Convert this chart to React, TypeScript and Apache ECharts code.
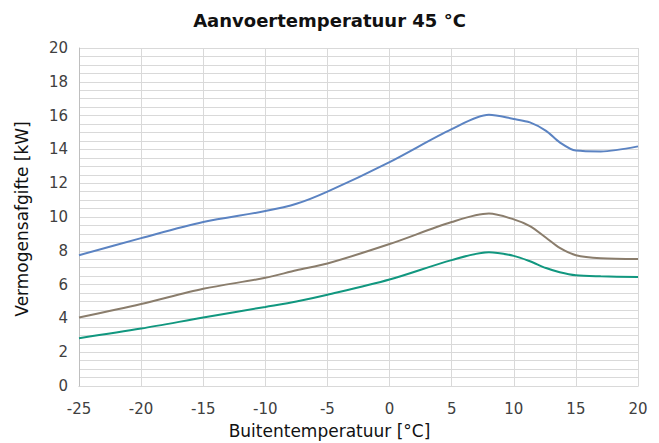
import React, { useEffect, useRef } from "react";
import * as echarts from "echarts";

const temps = [-25, -20, -15, -10, -7.5, -5, 0, 5, 8, 10, 11.3, 12.6, 13.7, 15, 17, 20];
const blueSeries = [7.74, 8.75, 9.7, 10.35, 10.78, 11.5, 13.25, 15.2, 16.05, 15.8, 15.6, 15.1, 14.42, 13.93, 13.88, 14.18];
const brownSeries = [4.05, 4.85, 5.75, 6.4, 6.85, 7.25, 8.4, 9.7, 10.2, 9.86, 9.46, 8.77, 8.17, 7.74, 7.56, 7.52];
const tealSeries = [2.83, 3.4, 4.05, 4.68, 5.0, 5.4, 6.3, 7.45, 7.92, 7.7, 7.38, 6.98, 6.73, 6.55, 6.49, 6.45];

const title = "Aanvoertemperatuur 45 °C";
const xName = "Buitentemperatuur [°C]";
const yName = "Vermogensafgifte [kW]";

const FONT = "'DejaVu Sans', sans-serif";

export default function App() {
  const ref = useRef<HTMLDivElement>(null);
  useEffect(() => {
    const chart = echarts.init(ref.current!, null, { renderer: "svg" });
    const mk = (vals: number[]) => temps.map((t, i) => [t, vals[i]]);
    const line = (name: string, vals: number[], color: string) => ({
      name,
      type: "line",
      data: mk(vals),
      smooth: 0.3,
      showSymbol: false,
      symbol: "none",
      lineStyle: { color, width: 2 },
      z: 5,
    });
    chart.setOption({
      animation: false,
      backgroundColor: "#ffffff",
      title: {
        text: title,
        left: "center",
        top: 6,
        textStyle: { fontFamily: FONT, fontSize: 18, fontWeight: "bold", color: "#111" },
      },
      grid: { left: 79, right: 21, top: 48, bottom: 57, containLabel: false },
      graphic: [
        {
          type: "text",
          left: "center",
          top: 422,
          style: { text: xName, fontFamily: FONT, fontSize: 17, fill: "#111" },
        },
        {
          type: "text",
          x: 22,
          y: 219,
          rotation: Math.PI / 2,
          style: {
            text: yName,
            fontFamily: FONT,
            fontSize: 17,
            fill: "#111",
            align: "center",
            verticalAlign: "middle",
          },
        },
      ],
      xAxis: {
        type: "value",
        min: -25,
        max: 20,
        interval: 5,
        axisLine: { show: true, onZero: false, lineStyle: { color: "#bfbfbf", width: 1 } },
        axisTick: { show: false },
        axisLabel: { fontFamily: FONT, fontSize: 15, color: "#404040", margin: 15 },
        splitLine: { show: true, lineStyle: { color: "#d9d9d9", width: 1 } },
      },
      yAxis: [
        {
          type: "value",
          min: 0,
          max: 20,
          interval: 2,
          axisLine: { show: true, onZero: false, lineStyle: { color: "#bfbfbf", width: 1 } },
          axisTick: { show: false },
          axisLabel: { fontFamily: FONT, fontSize: 15, color: "#404040", margin: 11 },
          splitLine: { show: true, lineStyle: { color: "#d9d9d9", width: 1 } },
          z: 3,
        },
        {
          type: "value",
          min: 0,
          max: 20,
          interval: 0.5,
          position: "left",
          axisLine: { show: false },
          axisTick: { show: false },
          axisLabel: { show: false },
          splitLine: { show: true, lineStyle: { color: "#d9d9d9", width: 1 } },
          z: 1,
        },
      ],
      series: [
        line("blauw", blueSeries, "#5B83C2"),
        line("bruin", brownSeries, "#8A7D6C"),
        line("groen", tealSeries, "#11977F"),
      ],
    });
    return () => chart.dispose();
  }, []);
  return <div ref={ref} style={{ width: 659, height: 443, position: "absolute", left: 0, top: 0 }} />;
}
